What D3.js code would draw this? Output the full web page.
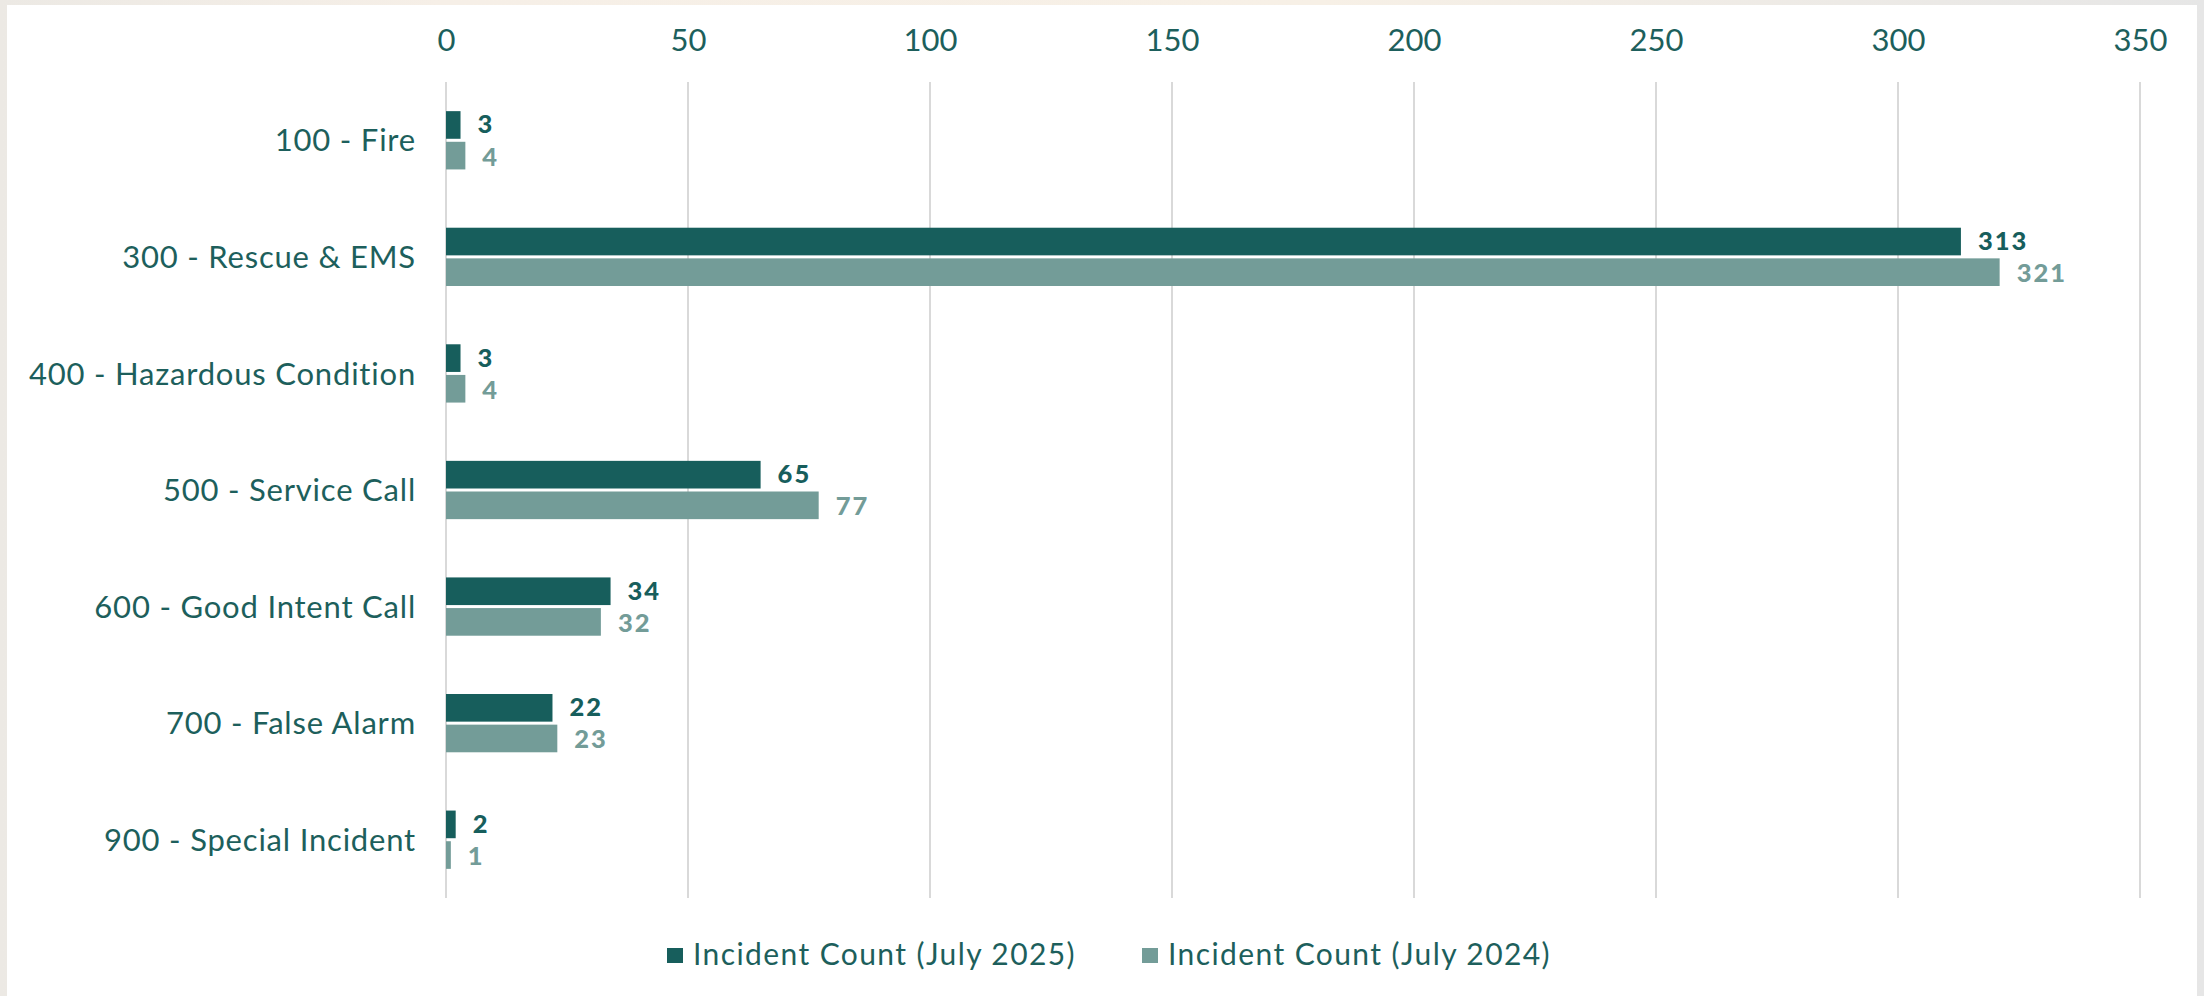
<!DOCTYPE html>
<html>
<head>
<meta charset="utf-8">
<script src="https://cdn.jsdelivr.net/npm/d3@7"></script>
<style>
  html, body { margin: 0; padding: 0; }
  body { width: 2204px; height: 996px; overflow: hidden; }
  svg { display: block; }
</style>
</head>
<body>
<svg id="chart" width="2204" height="996"></svg>
<script>
const categories = [
  "100 - Fire",
  "300 - Rescue & EMS",
  "400 - Hazardous Condition",
  "500 - Service Call",
  "600 - Good Intent Call",
  "700 - False Alarm",
  "900 - Special Incident"
];
const seriesNames = ["Incident Count (July 2025)", "Incident Count (July 2024)"];
const values2025 = [3, 313, 3, 65, 34, 22, 2];
const values2024 = [4, 321, 4, 77, 32, 23, 1];
const tickValues = [0, 50, 100, 150, 200, 250, 300, 350];

const colors = ["#175e5c", "#739c98"];
const textColor = "#1d5f5c";
const font = "Lato, 'Open Sans', sans-serif";

const svg = d3.select("#chart");

// background with border
const defs = svg.append("defs");
const grad = defs.append("linearGradient").attr("id", "bg").attr("x1", 0).attr("x2", 1).attr("y1", 0).attr("y2", 0);
grad.append("stop").attr("offset", "0%").attr("stop-color", "#ece9e4");
grad.append("stop").attr("offset", "20%").attr("stop-color", "#f6efe7");
grad.append("stop").attr("offset", "60%").attr("stop-color", "#f7f0e6");
grad.append("stop").attr("offset", "100%").attr("stop-color", "#e6e6e6");
svg.append("rect").attr("width", 2204).attr("height", 996).attr("fill", "url(#bg)");
svg.append("rect").attr("x", 7).attr("y", 5).attr("width", 2190).attr("height", 991).attr("fill", "#ffffff");

const x = d3.scaleLinear().domain([0, 350]).range([446, 2140]);
const y = d3.scaleBand().domain(categories).range([82, 898]).paddingInner(0.5).paddingOuter(0.25);
const sub = d3.scaleBand().domain(seriesNames).range([0, y.bandwidth()]);

// gridlines
svg.append("g").selectAll("line").data(tickValues).join("line")
  .attr("x1", d => x(d)).attr("x2", d => x(d))
  .attr("y1", 82).attr("y2", 898)
  .attr("stroke", "#d9d9d9").attr("stroke-width", 2);

// top axis labels
const axis = d3.axisTop(x).tickValues(tickValues).tickSize(0).tickPadding(0);
const gAxis = svg.append("g").attr("transform", "translate(0,51)").call(axis);
gAxis.select(".domain").remove();
gAxis.selectAll("text")
  .attr("font-family", font).attr("font-size", 31).attr("fill", textColor)
  .attr("dy", 0);

// category labels
const yAxis = d3.axisLeft(y).tickSize(0).tickPadding(30);
const gY = svg.append("g").attr("transform", `translate(${x(0)},0)`).call(yAxis);
gY.select(".domain").remove();
gY.selectAll("text")
  .attr("font-family", font).attr("font-size", 31).attr("fill", textColor)
  .attr("letter-spacing", "0.8px")
  .attr("dy", "0.36em");

// bars
const data = categories.map((c, i) => ({ cat: c, vals: [values2025[i], values2024[i]] }));
const groups = svg.append("g").selectAll("g").data(data).join("g")
  .attr("transform", d => `translate(0,${y(d.cat)})`);

groups.selectAll("rect").data(d => d.vals.map((v, j) => ({ v, s: seriesNames[j], j })))
  .join("rect")
  .attr("x", x(0))
  .attr("y", d => sub(d.s) + (d.j === 0 ? 0 : 1.5))
  .attr("width", d => x(d.v) - x(0))
  .attr("height", sub.bandwidth() - 1.5)
  .attr("fill", d => colors[d.j]);

groups.selectAll("text").data(d => d.vals.map((v, j) => ({ v, s: seriesNames[j], j })))
  .join("text")
  .attr("x", d => x(d.v) + 17)
  .attr("y", d => sub(d.s) + sub.bandwidth() / 2 + (d.j === 0 ? -1.5 : 1.5))
  .attr("dy", "0.36em")
  .attr("font-family", font).attr("font-weight", 900).attr("font-size", 25.5)
  .attr("letter-spacing", "2px")
  .attr("fill", d => colors[d.j])
  .text(d => d.v);

// legend
const legendX = [667, 1142];
const leg = svg.append("g").selectAll("g").data(seriesNames).join("g")
  .attr("transform", (d, i) => `translate(${legendX[i]},948)`);
leg.append("rect").attr("width", 16).attr("height", 15).attr("fill", (d, i) => colors[i]);
leg.append("text").attr("x", 26).attr("y", 17)
  .attr("font-family", font).attr("font-size", 30).attr("fill", textColor)
  .attr("letter-spacing", "1.4px")
  .text(d => d);
</script>
</body>
</html>
